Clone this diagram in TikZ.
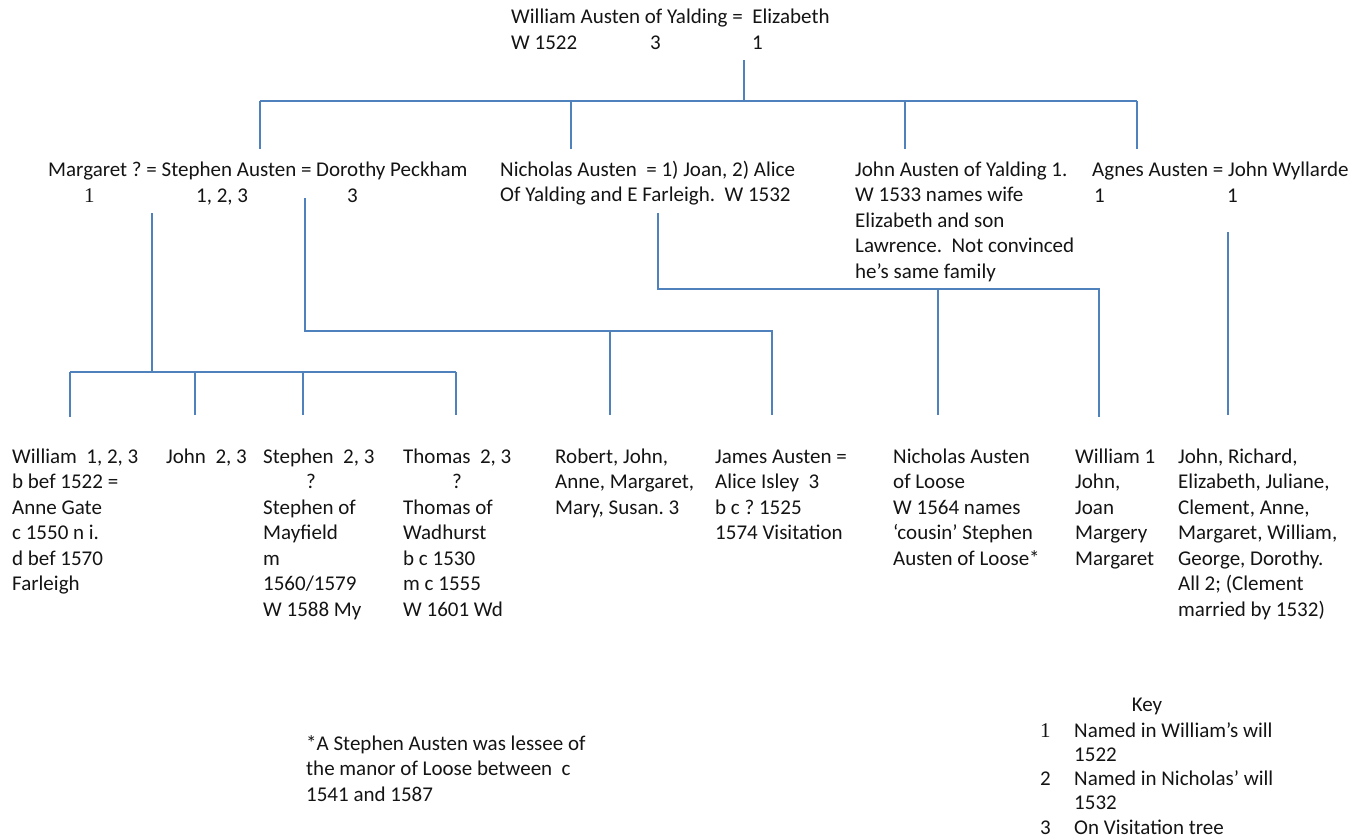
\documentclass[tikz,border=0pt]{standalone}
\usepackage{fontspec}
\setmainfont{Carlito}
\newfontfamily\serifone{Liberation Serif}
\definecolor{lineblue}{RGB}{79,129,189}
\definecolor{ink}{RGB}{20,20,20}
\frenchspacing
\tikzset{
  txt/.style={anchor=base west, inner sep=0pt, align=flush left, text width=400pt,
    font=\fontsize{21}{25.5}\selectfont\frenchspacing, text=ink},
  lbl/.style={anchor=base west, inner sep=0pt, font=\fontsize{21}{25.5}\selectfont, text=ink},
  ln/.style={draw=lineblue, line width=1.6pt}
}
\begin{document}
\begin{tikzpicture}[x=1pt,y=-1pt]
\useasboundingbox (0,0) rectangle (1360,839);

% ---------- top couple ----------
\node[lbl] (william) at (511,23) {William Austen of Yalding =\ \ Elizabeth};
\node[lbl] (wW) at (511,49) {W 1522};
\node[lbl] (w3) at (650,49) {3};
\node[lbl] (w1) at (752,49) {1};

% ---------- second row ----------
\node[lbl] (stephen) at (48,176) {Margaret ? = Stephen Austen = Dorothy Peckham};
\node[lbl] (s1) at (84,202) {\serifone 1};
\node[lbl] (s123) at (196,202) {1, 2, 3};
\node[lbl] (s3) at (347,202) {3};
\node[txt] (nicholas) at (500,176) {Nicholas Austen\ \ = 1) Joan, 2) Alice\\Of Yalding and E Farleigh.\ \ W 1532};
\node[txt] (john) at (855,176) {John Austen of Yalding 1.\\W 1533 names wife\\Elizabeth and son\\Lawrence.\ \ Not convinced\\he’s same family};
\node[lbl] (agnes) at (1092,176) {Agnes Austen = John Wyllarde};
\node[lbl] (a1) at (1094,202) {1};
\node[lbl] (a2) at (1227,202) {1};

% ---------- third row ----------
\node[txt] (cWilliam) at (12,463) {William\ \ 1, 2, 3\\b bef 1522 =\\Anne Gate\\c 1550 n i.\\d bef 1570\\Farleigh};
\node[txt] (cJohn) at (166,463) {John\ \ 2, 3};
\node[txt] (cStephen) at (263,463) {Stephen\ \ 2, 3\\\hspace*{43pt}?\\Stephen of\\Mayfield\\m\\1560/1579\\W 1588 My};
\node[txt] (cThomas) at (403,463) {Thomas\ \ 2, 3\\\hspace*{49pt}?\\Thomas of\\Wadhurst\\b c 1530\\m c 1555\\W 1601 Wd};
\node[txt] (cRobert) at (555,463) {Robert, John,\\Anne, Margaret,\\Mary, Susan. 3};
\node[txt] (cJames) at (715,463) {James Austen =\\Alice Isley\ \ 3\\b c ? 1525\\1574 Visitation};
\node[txt] (cNicholas) at (893,463) {Nicholas Austen\\of Loose\\W 1564 names\\‘cousin’ Stephen\\Austen of Loose*};
\node[txt] (cWill1) at (1075,463) {William 1\\John,\\Joan\\Margery\\Margaret};
\node[txt] (cJohnR) at (1178,463) {John, Richard,\\Elizabeth, Juliane,\\Clement, Anne,\\Margaret, William,\\George, Dorothy.\\All 2; (Clement\\married by 1532)};

% ---------- footnote and key ----------
\node[txt] (foot) at (306,750) {*A Stephen Austen was lessee of\\the manor of Loose between\ \ c\\1541 and 1587};
\node[anchor=base, inner sep=0pt, font=\fontsize{21}{25.5}\selectfont, text=ink] (key) at (1147,711) {Key};
\node[lbl] (k1) at (1040,737) {\serifone 1};
\node[txt, font=\fontsize{21}{24.2}\selectfont] (k1t) at (1074,737) {Named in William’s will\\1522};
\node[lbl] (k2) at (1040,785) {2};
\node[txt, font=\fontsize{21}{24.2}\selectfont] (k2t) at (1074,785) {Named in Nicholas’ will\\1532};
\node[lbl] (k3) at (1040,834) {3};
\node[lbl] (k3t) at (1074,834) {On Visitation tree};

% ---------- junction coordinates ----------
\coordinate (t0) at (744,60);
\coordinate (t1) at (744,101);
\coordinate (bL) at (260,101);
\coordinate (bN) at (571,101);
\coordinate (bJ) at (905,101);
\coordinate (bA) at (1137,101);
\coordinate (eL) at (260,149);
\coordinate (eN) at (571,149);
\coordinate (eJ) at (905,149);
\coordinate (eA) at (1137,149);

\coordinate (m0) at (152,213);
\coordinate (m1) at (152,372);
\coordinate (mW) at (70,372);
\coordinate (mJ) at (195,372);
\coordinate (mS) at (303,372);
\coordinate (mT) at (456,372);
\coordinate (nW) at (70,417);
\coordinate (nJ) at (195,415);
\coordinate (nS) at (303,415);
\coordinate (nT) at (456,415);

\coordinate (p0) at (305,198);
\coordinate (p1) at (305,331);
\coordinate (pR) at (610,331);
\coordinate (pJ) at (772,331);
\coordinate (qR) at (610,415);
\coordinate (qJ) at (772,415);

\coordinate (n0) at (658,213);
\coordinate (n1) at (658,289);
\coordinate (nN) at (938,289);
\coordinate (nV) at (1099,289);
\coordinate (oN) at (938,415);
\coordinate (oV) at (1099,417);

\coordinate (g0) at (1228,232);
\coordinate (g1) at (1228,415);

% ---------- connectors ----------
\draw[ln] (t0) -- (t1);
\draw[ln] (bL) -- (bA);
\draw[ln] (bL) -- (eL);
\draw[ln] (bN) -- (eN);
\draw[ln] (bJ) -- (eJ);
\draw[ln] (bA) -- (eA);

\draw[ln] (m0) -- (m1);
\draw[ln] (mW) -- (mT);
\draw[ln] (mW) -- (nW);
\draw[ln] (mJ) -- (nJ);
\draw[ln] (mS) -- (nS);
\draw[ln] (mT) -- (nT);

\draw[ln] (p0) -- (p1) -- (pJ) -- (qJ);
\draw[ln] (pR) -- (qR);

\draw[ln] (n0) -- (n1) -- (nV) -- (oV);
\draw[ln] (nN) -- (oN);

\draw[ln] (g0) -- (g1);
\end{tikzpicture}
\end{document}
